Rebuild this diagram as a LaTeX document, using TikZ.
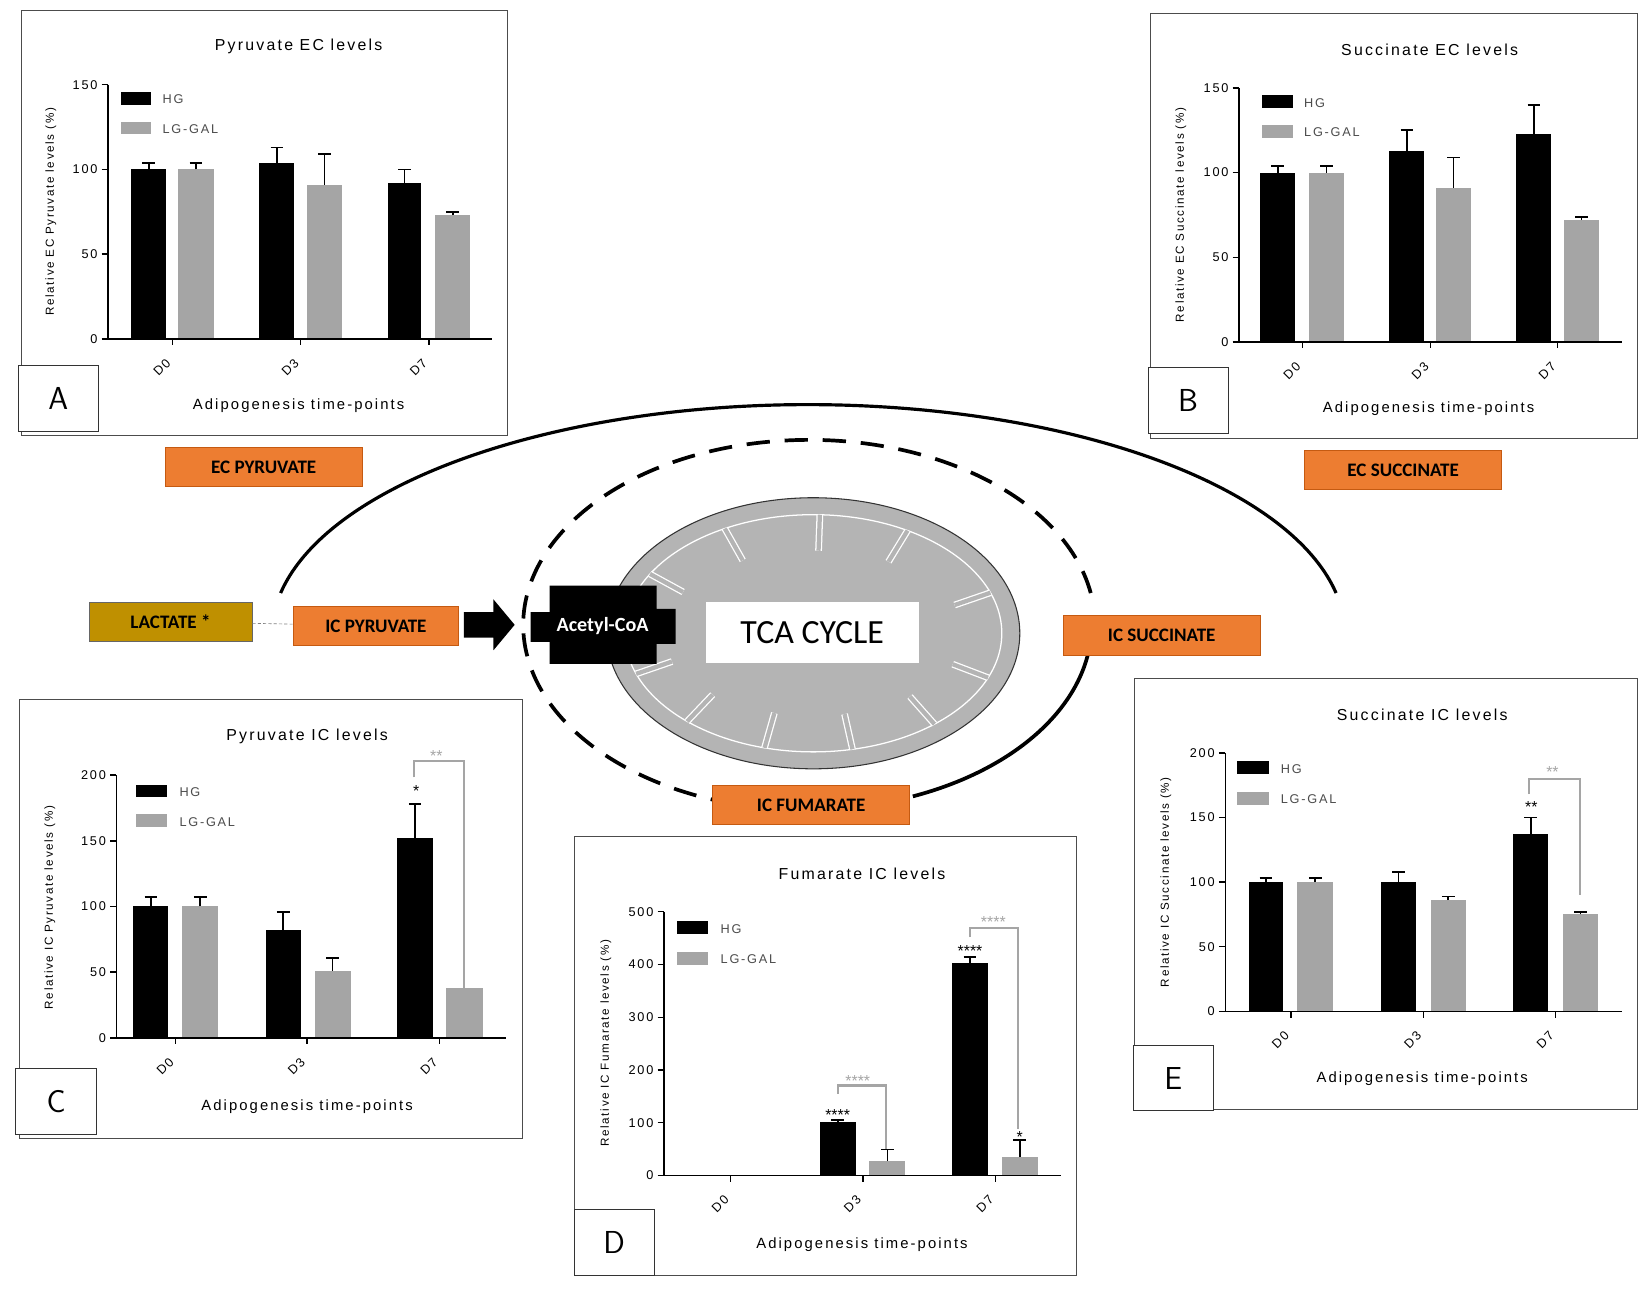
\documentclass[tikz,border=0pt]{standalone}
\usepackage{fontspec}
\usetikzlibrary{shapes.geometric,calc}
\setmainfont{Carlito}
\newfontfamily\chartfont{Liberation Sans}[LetterSpace=14]
\newfontfamily\sigfont{Liberation Sans}
\definecolor{barg}{HTML}{A5A5A5}
\definecolor{org}{HTML}{ED7D31}
\definecolor{orgd}{HTML}{C55A11}
\definecolor{gold}{HTML}{BF9000}
\definecolor{mito}{HTML}{B4B4B4}
\newcommand\pbar[5]{\fill[#5] (#1,0) rectangle (#2,#3);
  \draw[line width=1.6] ({(#1+#2)/2},#3) -- ({(#1+#2)/2},#3+#4);
  \draw[line width=1.6] ({(#1+#2)/2-6},#3+#4) -- ({(#1+#2)/2+6},#3+#4);}
\newcommand\xticks[2]{\foreach \x/\l in {#1}{\draw[axis] (\x,#2) -- (\x,#2+6); \node[tk, rotate=45] at (\x-10,#2+27) {\l};}}
\tikzset{
  frame/.style={draw=black!70, line width=0.8},
  lbox/.style={draw=black!80, line width=0.8, fill=white},
  lett/.style={font=\fontsize{30}{30}\selectfont\sffamily},
  ttl/.style={font=\chartfont\fontsize{15}{15}\selectfont},
  tk/.style={font=\chartfont\fontsize{12}{12}\selectfont},
  lg/.style={font=\chartfont\fontsize{12}{12}\selectfont, text=black!70, anchor=west},
  xl/.style={font=\chartfont\fontsize{14}{14}\selectfont},
  yl/.style={font=\chartfont\fontsize{11}{11}\selectfont, rotate=90},
  ob/.style={draw=orgd, fill=org, line width=0.8, minimum width=186, minimum height=37, font=\fontsize{18}{18}\selectfont\bfseries, inner sep=0},
  axis/.style={line width=1.3},
  sig/.style={font=\sigfont\fontsize{15}{15}\selectfont, inner sep=0},
  br/.style={draw=barg, line width=2},
}
\begin{document}
\begin{tikzpicture}[x=1pt,y=-1pt]
\useasboundingbox (0,0) rectangle (1560,1219);
\fill[white] (0,0) rectangle (1560,1219);

% ---------- central diagram ----------
\draw[line width=3] (265,560) arc[start angle=169.4, end angle=10.6, x radius=507, y radius=-218];
\draw[line width=3.5, dash pattern=on 22 off 14] (1030,560) arc[start angle=10, end angle=253, x radius=270, y radius=-175];
\draw[line width=3.5] (862,752) arc[start angle=292, end angle=355, x radius=270, y radius=-175];
% mitochondrion
\node[ellipse, draw=black!80, line width=1, fill=mito, minimum width=390, minimum height=256] (mito) at (768,598) {};
\begin{scope}[white, line width=1.2]
\draw (768,598) ellipse[x radius=178, y radius=112];
\foreach \a in {20,60,88,118,150,200,228,255,282,310,338}{
  \draw[draw=white, double=mito, double distance=4, line width=1.2] ($(768,598)+(\a:178 and -112)$) -- ($(768,598)+(\a:142 and -78)$);}
\end{scope}
\node[fill=white, minimum width=201, minimum height=58, font=\fontsize{32}{32}\selectfont] (tca) at (767,597) {TCA CYCLE};
\fill[black] (501,578) -- (519,578) -- (519,553) -- (620,553) -- (620,575) -- (638,575) -- (638,608) -- (620,608) -- (620,627) -- (519,627) -- (519,606) -- (501,606) -- cycle;
\node[text=white, font=\fontsize{19}{19}\selectfont\bfseries] (acoa) at (569,591) {Acetyl-CoA};
\fill[black] (438,578) -- (466,578) -- (466,566) -- (486,590) -- (466,614) -- (466,602) -- (438,602) -- cycle;
\node[ob] (ecp) at (249,441) {EC PYRUVATE};
\node[ob] (ecs) at (1325,444) {EC SUCCINATE};
\node[ob, minimum width=155] (icp) at (355,591) {IC PYRUVATE};
\node[ob] (ics) at (1097,600) {IC SUCCINATE};
\node[ob] (icf) at (766,760) {IC FUMARATE};
\node[ob, draw=black!60, fill=gold, minimum width=154] (lac) at (161,587) {LACTATE *};
\draw[black!50, densely dashed, line width=0.6] (lac) -- (icp);

% ---------- Panel A ----------
\draw[frame] (20,10) rectangle (479,411);
\node[ttl] at (282,44) {Pyruvate EC levels};
\begin{scope}[shift={(0,320)}, yscale=-1.6]
\pbar{124}{157}{100}{4}{black}\pbar{168}{202}{100}{4}{barg}
\pbar{245}{278}{104}{9}{black}\pbar{290}{323}{91}{18}{barg}
\pbar{366}{398}{92}{8}{black}\pbar{411}{444}{73}{2}{barg}
\draw[axis] (102,150) -- (102,0) -- (465,0);
\foreach \v in {0,50,100,150}{\draw[axis] (96,\v) -- (102,\v) node[tk, pos=0, left]{\v};}
\end{scope}
\xticks{163/D0,284/D3,405/D7}{320}
\fill (114,87) rectangle (143,99); \node[lg] at (150,94) {HG};
\fill[barg] (114,115) rectangle (143,127); \node[lg] at (150,122) {LG-GAL};
\node[xl] at (282,383) {Adipogenesis time-points};
\node[yl] at (48,200) {Relative EC Pyruvate levels (\%)};
\node[lbox, minimum width=76, minimum height=62, lett] (la) at (55,376) {A};

% ---------- Panel B ----------
\draw[frame] (1086,13) rectangle (1546,414);
\node[ttl] at (1350,47) {Succinate EC levels};
\begin{scope}[shift={(0,323)}, yscale=-1.6]
\pbar{1190}{1223}{100}{4}{black}\pbar{1236}{1269}{100}{4}{barg}
\pbar{1312}{1345}{113}{12}{black}\pbar{1356}{1389}{91}{18}{barg}
\pbar{1432}{1465}{123}{17}{black}\pbar{1477}{1510}{72}{2}{barg}
\draw[axis] (1170,150) -- (1170,0) -- (1532,0);
\foreach \v in {0,50,100,150}{\draw[axis] (1164,\v) -- (1170,\v) node[tk, pos=0, left]{\v};}
\end{scope}
\xticks{1230/D0,1351/D3,1471/D7}{323}
\fill (1192,90) rectangle (1221,102); \node[lg] at (1228,97) {HG};
\fill[barg] (1192,118) rectangle (1221,130); \node[lg] at (1228,125) {LG-GAL};
\node[xl] at (1349,386) {Adipogenesis time-points};
\node[yl] at (1115,203) {Relative EC Succinate levels (\%)};
\node[lbox, minimum width=76, minimum height=62, lett] (lb) at (1122,378) {B};

% ---------- Panel C ----------
\draw[frame] (18,660) rectangle (493,1075);
\node[ttl] at (290,695) {Pyruvate IC levels};
\begin{scope}[shift={(0,980)}, yscale=-1.24]
\pbar{126}{159}{100}{7}{black}\pbar{172}{206}{100}{7}{barg}
\pbar{251}{284}{82}{14}{black}\pbar{297}{331}{51}{10}{barg}
\pbar{375}{409}{152}{26}{black}\fill[barg] (421,0) rectangle (456,38);
\draw[axis] (110,200) -- (110,0) -- (478,0);
\foreach \v in {0,50,100,150,200}{\draw[axis] (104,\v) -- (110,\v) node[tk, pos=0, left]{\v};}
\end{scope}
\draw[br] (391,734) -- (391,719) -- (438,719) -- (438,934);
\node[sig] at (393,747) {*};
\node[sig, text=barg] at (412,714) {**};
\xticks{166/D0,290/D3,415/D7}{980}
\fill (128,741) rectangle (158,753); \node[lg] at (166,748) {HG};
\fill[barg] (128,769) rectangle (158,781); \node[lg] at (166,776) {LG-GAL};
\node[xl] at (290,1045) {Adipogenesis time-points};
\node[yl] at (47,857) {Relative IC Pyruvate levels (\%)};
\node[lbox, minimum width=76, minimum height=63, lett] (lc) at (53,1040) {C};

% ---------- Panel D ----------
\draw[frame] (542,790) rectangle (1016,1204);
\node[ttl] at (814,825) {Fumarate IC levels};
\begin{scope}[shift={(0,1110)}, yscale=-0.498]
\pbar{774}{808}{102}{3}{black}\pbar{821}{855}{27}{22}{barg}
\pbar{899}{933}{402}{12}{black}\pbar{946}{980}{35}{32}{barg}
\draw[axis] (627,500) -- (627,0) -- (1002,0);
\foreach \v in {0,100,...,500}{\draw[axis] (621,\v) -- (627,\v) node[tk, pos=0, left]{\v};}
\end{scope}
\draw[br] (791,1033) -- (791,1025) -- (837,1025) -- (837,1085);
\node[sig] at (791,1053) {****};
\node[sig, text=barg] at (810,1021) {****};
\draw[br] (916,885) -- (916,876) -- (961,876) -- (961,1066);
\node[sig] at (916,898) {****};
\node[sig, text=barg] at (938,871) {****};
\node[sig] at (963,1074) {*};
\xticks{690/D0,815/D3,940/D7}{1110}
\fill (639,870) rectangle (669,882); \node[lg] at (677,877) {HG};
\fill[barg] (639,899) rectangle (669,911); \node[lg] at (677,906) {LG-GAL};
\node[xl] at (814,1175) {Adipogenesis time-points};
\node[yl] at (572,985) {Relative IC Fumarate levels (\%)};
\node[lbox, minimum width=76, minimum height=62, lett] (ld) at (580,1173) {D};

% ---------- Panel E ----------
\draw[frame] (1071,641) rectangle (1546,1048);
\node[ttl] at (1343,675) {Succinate IC levels};
\begin{scope}[shift={(0,955)}, yscale=-1.22]
\pbar{1179}{1212}{100}{3}{black}\pbar{1225}{1259}{100}{3}{barg}
\pbar{1304}{1337}{100}{8}{black}\pbar{1351}{1384}{86}{3}{barg}
\pbar{1429}{1462}{137}{13}{black}\pbar{1476}{1509}{75}{2}{barg}
\draw[axis] (1157,200) -- (1157,0) -- (1532,0);
\foreach \v in {0,50,100,150,200}{\draw[axis] (1151,\v) -- (1157,\v) node[tk, pos=0, left]{\v};}
\end{scope}
\draw[br] (1444,750) -- (1444,736) -- (1492,736) -- (1492,845);
\node[sig] at (1446,762) {**};
\node[sig, text=barg] at (1466,729) {**};
\xticks{1219/D0,1344/D3,1469/D7}{955}
\fill (1168,719) rectangle (1198,731); \node[lg] at (1206,726) {HG};
\fill[barg] (1168,748) rectangle (1198,760); \node[lg] at (1206,755) {LG-GAL};
\node[xl] at (1343,1019) {Adipogenesis time-points};
\node[yl] at (1101,833) {Relative IC Succinate levels (\%)};
\node[lbox, minimum width=76, minimum height=62, lett] (le) at (1108,1018) {E};
\end{tikzpicture}
\end{document}
